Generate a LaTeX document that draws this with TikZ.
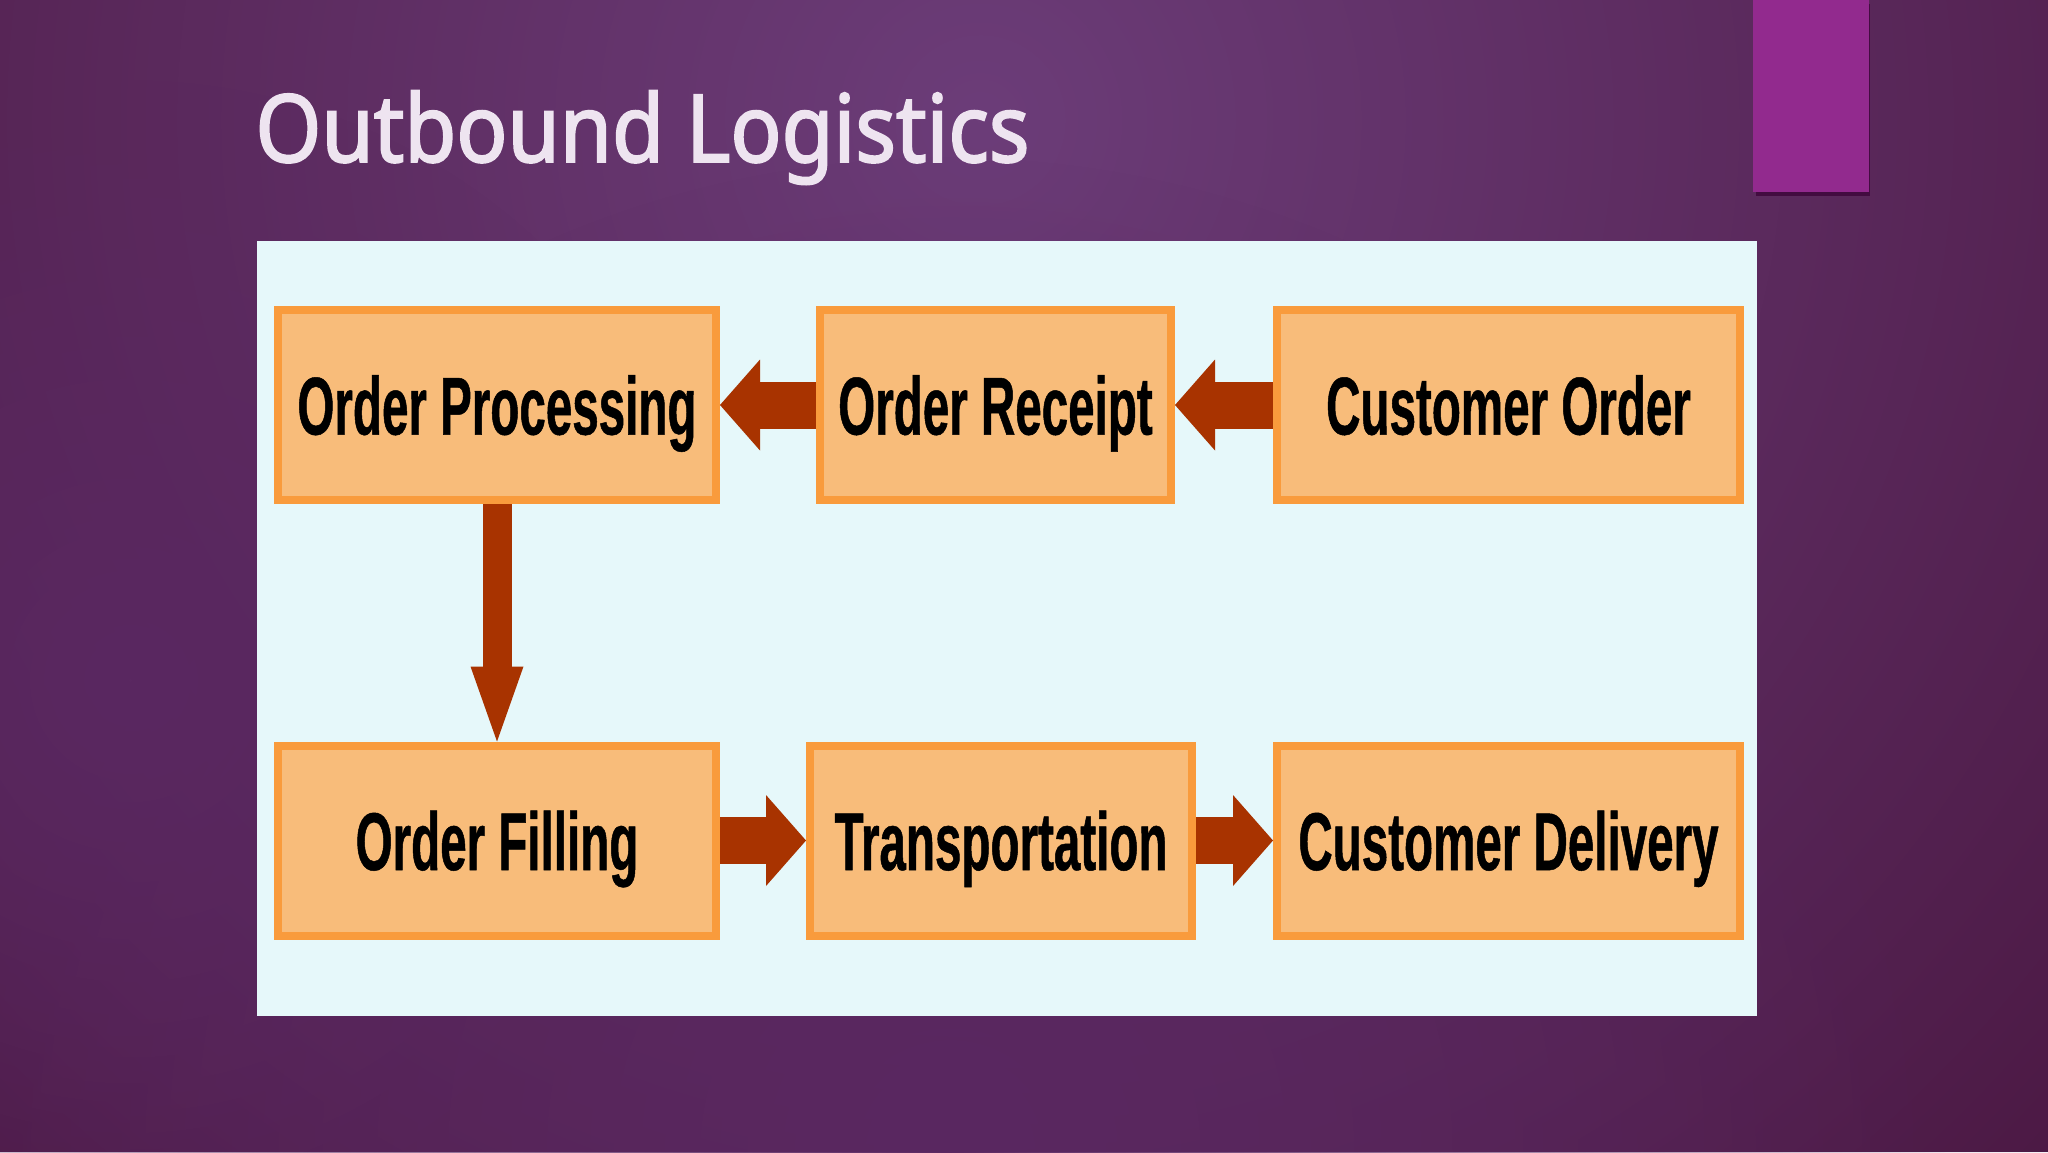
\documentclass[tikz,border=0pt]{standalone}
\usepackage{fontspec}
\usetikzlibrary{arrows.meta,fadings}
\newfontfamily\titlefont[FakeStretch=0.9,FakeBold=2]{Noto Sans}
\newfontfamily\boxfont[FakeStretch=0.58,FakeBold=0.6]{Liberation Sans}
\definecolor{bgbase}{HTML}{4A1741}
\definecolor{bglight}{HTML}{6C3D79}
\definecolor{bglow}{HTML}{5A2861}
\definecolor{panelc}{HTML}{E6F8FA}
\definecolor{accent}{HTML}{922A8E}
\definecolor{accentshadow}{HTML}{420C40}
\definecolor{boxfill}{HTML}{F8BC7A}
\definecolor{boxline}{HTML}{F99B3C}
\definecolor{arrowc}{HTML}{A83300}
\definecolor{titlec}{HTML}{EEE4F0}
\tikzfading[name=softglow, inner color=transparent!0, outer color=transparent!100]
\begin{document}
\begin{tikzpicture}[x=0.5pt,y=-0.5pt,
  stagebox/.style={draw=boxline, fill=boxfill, line width=4pt, inner sep=0pt,
    minimum height=95pt, text height=29.5pt, text depth=0pt,
    font=\boxfont\bfseries\fontsize{41}{41}\selectfont},
  flowarrow/.style={draw=arrowc, line width=23.5pt,
    -{Triangle[line width=0pt, length=20pt, width=45.5pt, fill=arrowc]}},
  downarrow/.style={draw=arrowc, line width=14.5pt,
    -{Triangle[line width=0pt, length=37.5pt, width=26.5pt, fill=arrowc]}}]
\useasboundingbox (0,0) rectangle (2048,1152);
% background
\fill[bgbase] (0,0) rectangle (2048,1152);
\begin{scope}
  \clip (0,0) rectangle (2048,1152);
  \fill[bglight, path fading=softglow] (980,120) circle (1600);
  \fill[bglow, path fading=softglow] (950,1152) circle (1000);
  \fill[bglow, path fading=softglow] (130,680) circle (600);
\end{scope}
% accent bar
\fill[accentshadow] (1756,4) rectangle (1870,196);
\fill[accent] (1753,0) rectangle (1869,192);
% title
\node[anchor=base west, text=titlec, inner sep=0pt,
  font=\titlefont\fontsize{47}{47}\selectfont] (title) at (255,162) {Outbound Logistics};
% panel
\fill[panelc] (257,241) rectangle (1757,1016);
% boxes
\node[stagebox, minimum width=219pt]   (proc)  at (497,405)    {Order Processing};
\node[stagebox, minimum width=175.5pt] (rec)   at (995.5,405)  {Order Receipt};
\node[stagebox, minimum width=231.5pt] (cust)  at (1508.5,405) {Customer Order};
\node[stagebox, minimum width=219pt]   (fill)  at (497,840.5)  {Order Filling};
\node[stagebox, minimum width=191pt]   (trans) at (1001,840.5) {Transportation};
\node[stagebox, minimum width=231.5pt] (deliv) at (1508.5,840.5) {Customer Delivery};
% arrows
\draw[flowarrow] (cust.west) -- (rec.east);
\draw[flowarrow] (rec.west) -- (proc.east);
\draw[downarrow] (proc.south) -- (fill.north);
\draw[flowarrow] (fill.east) -- (trans.west);
\draw[flowarrow] (trans.east) -- (deliv.west);
\end{tikzpicture}
\end{document}
